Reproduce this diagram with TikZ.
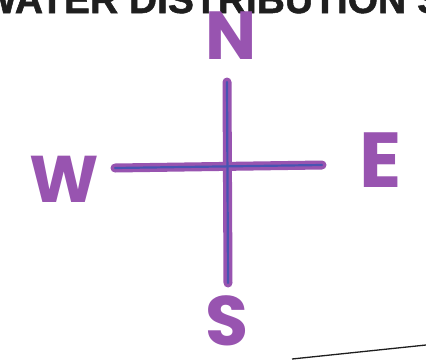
\documentclass[tikz,border=0pt]{standalone}
\usepackage{fontspec}
\usepackage{xcolor}
\newfontfamily\titlefont[BoldFeatures={FakeBold=1.3}]{Liberation Sans}
\newfontfamily\handfont{Poppins}
\definecolor{markerpurple}{RGB}{152,84,176}
\definecolor{markerblue}{RGB}{72,84,178}
\definecolor{edgegray}{RGB}{30,30,30}
\usetikzlibrary{positioning}

\begin{document}
\begin{tikzpicture}[
    x=1pt, y=-1pt,
    title/.style={inner sep=0pt, anchor=base west, font=\titlefont\bfseries\fontsize{39}{39}\selectfont, text=black!88},
    point/.style={inner sep=0pt, text=markerpurple, font=\handfont\bfseries\fontsize{#1}{#1}\selectfont},
    point/.default=70,
    arm/.style={draw=markerpurple, line width=9pt, line cap=round},
    core/.style={draw=markerblue, line width=2.2pt, line cap=round},
    edge/.style={draw=edgegray, line width=1.3pt}
]
    \useasboundingbox (0,0) rectangle (426,360);
    \fill[white] (0,0) rectangle (426,360);
    \clip (0,0) rectangle (426,360);

    % Title (cut off by the scan)
    \node[title] (heading) at (-20,13) {WATER DISTRIBUTION SYSTEM};

    % Nodes
    \node[point=68] (north) at (231,36) {N};
    \node[point=66] (west)  at (64,179) {W};
    \node[point=78] (east)  at (381,160) {E};
    \node[point=70] (south) at (227,321) {S};

    \coordinate (armN) at (227,82);
    \coordinate (armS) at (228,283);
    \coordinate (armW) at (115,168);
    \coordinate (armE) at (322,165);

    % Lines
    \draw[arm] (armN) -- (armS);
    \draw[arm] (armW) -- (armE);
    \draw[core] (armN) -- (armS);
    \draw[core] (armW) -- (armE);

    % Edge of the sheet
    \coordinate (edgeA) at (292,359);
    \coordinate (edgeB) at (426,345);
    \draw[edge] (edgeA) -- (edgeB);
\end{tikzpicture}
\end{document}
